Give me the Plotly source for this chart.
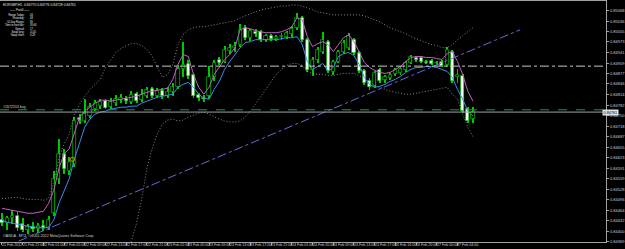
import plotly.graph_objects as go

# ---------------- data (EURGBP H1) ----------------
opens = [0.84434,0.84425,0.84440,0.84446,0.84422,0.84404,0.84413,0.84407,0.84416,0.84410,
         0.84455,0.84560,0.84635,0.84584,0.84605,0.84743,0.84734,0.84749,0.84770,0.84779,
         0.84794,0.84776,0.84788,0.84797,0.84800,0.84791,0.84815,0.84797,0.84809,0.84830,
         0.84809,0.84824,0.84809,0.84821,0.84836,0.84890,0.84905,0.84872,0.84812,0.84803,
         0.84809,0.84866,0.84920,0.84914,0.84947,0.84956,0.84965,0.85016,0.84986,0.85004,
         0.85004,0.84980,0.84992,0.84983,0.84989,0.84989,0.84998,0.85016,0.85046,0.84980,
         0.84887,0.84920,0.84944,0.84974,0.84881,0.84914,0.84944,0.84956,0.84980,0.84941,
         0.84884,0.84854,0.84839,0.84887,0.84857,0.84863,0.84875,0.84878,0.84887,0.84911,
         0.84926,0.84926,0.84914,0.84917,0.84908,0.84914,0.84902,0.84944,0.84866,0.84869,
         0.84770,0.84740]
highs = [0.84455,0.84446,0.84464,0.84458,0.84440,0.84422,0.84428,0.84425,0.84434,0.84446,
         0.84584,0.84680,0.84650,0.84626,0.84746,0.84755,0.84800,0.84788,0.84797,0.84800,
         0.84800,0.84803,0.84812,0.84815,0.84809,0.84824,0.84821,0.84830,0.84836,0.84836,
         0.84833,0.84833,0.84836,0.84848,0.84902,0.84974,0.84920,0.84878,0.84818,0.84812,
         0.84899,0.84920,0.84929,0.84962,0.84968,0.84974,0.85028,0.85025,0.85013,0.85013,
         0.85010,0.84998,0.84998,0.84995,0.85001,0.85007,0.85022,0.85061,0.85052,0.84986,
         0.84929,0.84959,0.85004,0.84980,0.84920,0.84950,0.84980,0.85001,0.84986,0.84947,
         0.84890,0.84863,0.84884,0.84893,0.84872,0.84878,0.84893,0.84899,0.84917,0.84935,
         0.84932,0.84932,0.84920,0.84923,0.84917,0.84920,0.84959,0.84950,0.84890,0.84875,
         0.84776,0.84776]
lows = [0.84416,0.84404,0.84422,0.84401,0.84398,0.84392,0.84398,0.84395,0.84401,0.84404,
        0.84446,0.84545,0.84575,0.84572,0.84596,0.84725,0.84728,0.84743,0.84764,0.84770,
        0.84770,0.84770,0.84779,0.84788,0.84785,0.84785,0.84788,0.84791,0.84803,0.84803,
        0.84803,0.84800,0.84803,0.84809,0.84830,0.84866,0.84860,0.84803,0.84794,0.84791,
        0.84800,0.84854,0.84902,0.84908,0.84938,0.84944,0.84959,0.84980,0.84977,0.84989,
        0.84974,0.84974,0.84977,0.84977,0.84980,0.84983,0.84989,0.85010,0.84974,0.84881,
        0.84869,0.84911,0.84938,0.84878,0.84872,0.84908,0.84938,0.84950,0.84935,0.84878,
        0.84842,0.84827,0.84833,0.84848,0.84848,0.84857,0.84869,0.84872,0.84881,0.84905,
        0.84914,0.84911,0.84905,0.84902,0.84902,0.84896,0.84896,0.84848,0.84848,0.84758,
        0.84728,0.84728]
closes = [0.84425,0.84440,0.84446,0.84410,0.84404,0.84413,0.84407,0.84416,0.84410,0.84434,
          0.84560,0.84635,0.84590,0.84611,0.84734,0.84737,0.84755,0.84776,0.84788,0.84791,
          0.84773,0.84791,0.84800,0.84803,0.84794,0.84812,0.84794,0.84812,0.84827,0.84809,
          0.84824,0.84809,0.84821,0.84836,0.84890,0.84902,0.84869,0.84809,0.84803,0.84800,
          0.84866,0.84908,0.84911,0.84950,0.84956,0.84962,0.85010,0.84986,0.85007,0.84998,
          0.84980,0.84992,0.84983,0.84989,0.84992,0.85001,0.85013,0.85046,0.84980,0.84887,
          0.84920,0.84950,0.84980,0.84884,0.84914,0.84944,0.84971,0.84992,0.84941,0.84884,
          0.84848,0.84836,0.84878,0.84854,0.84866,0.84872,0.84887,0.84890,0.84911,0.84929,
          0.84920,0.84914,0.84911,0.84905,0.84911,0.84899,0.84950,0.84854,0.84872,0.84764,
          0.84734,0.84761]

ma_high = [0.84470,0.84467,0.84464,0.84461,0.84458,0.84455,0.84455,0.84458,0.84461,0.84485,
           0.84524,0.84590,0.84635,0.84650,0.84695,0.84746,0.84764,0.84776,0.84788,0.84797,
           0.84797,0.84794,0.84797,0.84800,0.84803,0.84806,0.84809,0.84815,0.84821,0.84824,
           0.84827,0.84830,0.84833,0.84860,0.84905,0.84935,0.84929,0.84875,0.84836,0.84815,
           0.84836,0.84875,0.84896,0.84920,0.84935,0.84956,0.85010,0.85016,0.85013,0.85007,
           0.85004,0.85001,0.85001,0.85001,0.85004,0.85010,0.85019,0.85046,0.85040,0.84989,
           0.84959,0.84968,0.84974,0.84965,0.84944,0.84965,0.84986,0.84995,0.84974,0.84944,
           0.84911,0.84896,0.84887,0.84881,0.84878,0.84881,0.84890,0.84899,0.84914,0.84926,
           0.84929,0.84929,0.84926,0.84926,0.84923,0.84920,0.84938,0.84944,0.84914,0.84875,
           0.84824,0.84794]
ma_low = [0.84434,0.84428,0.84425,0.84422,0.84419,0.84416,0.84413,0.84413,0.84410,0.84413,
          0.84434,0.84485,0.84524,0.84560,0.84620,0.84665,0.84716,0.84740,0.84755,0.84761,
          0.84764,0.84770,0.84773,0.84776,0.84776,0.84779,0.84779,0.84788,0.84794,0.84800,
          0.84806,0.84809,0.84812,0.84815,0.84836,0.84845,0.84851,0.84836,0.84815,0.84803,
          0.84800,0.84830,0.84854,0.84890,0.84914,0.84935,0.84956,0.84971,0.84974,0.84980,
          0.84980,0.84980,0.84980,0.84980,0.84983,0.84986,0.84986,0.84989,0.84965,0.84914,
          0.84890,0.84899,0.84908,0.84884,0.84896,0.84929,0.84938,0.84941,0.84932,0.84905,
          0.84866,0.84845,0.84836,0.84839,0.84845,0.84854,0.84860,0.84869,0.84881,0.84890,
          0.84896,0.84896,0.84899,0.84899,0.84896,0.84890,0.84884,0.84866,0.84830,0.84800,
          0.84764,0.84749]
bb_upper = [0.84500,0.84500,0.84503,0.84503,0.84500,0.84497,0.84497,0.84497,0.84494,0.84500,
            0.84545,0.84620,0.84665,0.84695,0.84755,0.84785,0.84809,0.84830,0.84845,0.84860,
            0.84896,0.84920,0.84941,0.84953,0.84962,0.84968,0.84968,0.84962,0.84950,0.84932,
            0.84896,0.84866,0.84875,0.84905,0.84965,0.84995,0.85010,0.85016,0.85019,0.85019,
            0.85022,0.85025,0.85028,0.85031,0.85034,0.85037,0.85046,0.85052,0.85058,0.85064,
            0.85070,0.85073,0.85076,0.85079,0.85082,0.85082,0.85085,0.85085,0.85082,0.85076,
            0.85070,0.85064,0.85061,0.85058,0.85055,0.85055,0.85055,0.85055,0.85055,0.85055,
            0.85052,0.85046,0.85040,0.85034,0.85025,0.85016,0.85010,0.85004,0.84998,0.84989,
            0.84983,0.84977,0.84971,0.84965,0.84962,0.84956,0.84956,0.84965,0.84980,0.84992,
            0.85004,0.85016]
bb_lower = [0.84362,0.84362,0.84362,0.84362,0.84362,0.84362,0.84362,0.84362,0.84362,0.84362,
            0.84335,0.84300,0.84270,0.84250,0.84230,0.84220,0.84210,0.84210,0.84215,0.84225,
            0.84240,0.84260,0.84290,0.84320,0.84345,0.84371,0.84425,0.84500,0.84590,0.84650,
            0.84695,0.84725,0.84737,0.84740,0.84734,0.84737,0.84746,0.84752,0.84758,0.84761,
            0.84755,0.84746,0.84740,0.84734,0.84731,0.84731,0.84734,0.84746,0.84764,0.84785,
            0.84806,0.84830,0.84854,0.84875,0.84890,0.84902,0.84908,0.84908,0.84902,0.84884,
            0.84878,0.84875,0.84875,0.84872,0.84872,0.84875,0.84878,0.84878,0.84878,0.84872,
            0.84860,0.84851,0.84842,0.84836,0.84830,0.84824,0.84821,0.84818,0.84815,0.84815,
            0.84818,0.84821,0.84824,0.84827,0.84830,0.84833,0.84836,0.84815,0.84800,0.84755,
            0.84716,0.84686]

trend_x = [3.25, 100.1]
trend_y = [0.84371, 0.85010]
pivot_level = 0.84900
order_level = 0.84768
trade_x = [13.6]
trade_y = [0.84618]

date_pos = list(range(0, 92, 4))
date_labels = ["21 Feb 2012", "21 Feb 21:00", "22 Feb 01:00", "22 Feb 05:00", "22 Feb 09:00",
               "22 Feb 13:00", "22 Feb 17:00", "22 Feb 21:00", "23 Feb 01:00", "23 Feb 05:00",
               "23 Feb 09:00", "23 Feb 13:00", "23 Feb 17:00", "23 Feb 21:00", "24 Feb 01:00",
               "24 Feb 05:00", "24 Feb 09:00", "24 Feb 13:00", "24 Feb 17:00", "26 Feb 16:00",
               "26 Feb 20:00", "27 Feb 00:00", "27 Feb 04:00"]
price_ticks = [0.85068,0.85036,0.85005,0.84973,0.84941,0.84909,0.84877,0.84846,0.84814,0.84782,
               0.84750,0.84718,0.84687,0.84655,0.84623,0.84591,0.84559,0.84528,0.84496,0.84464,
               0.84432,0.84400,0.84369]

info_labels = ["Range Today:", "Yesterday:", "14-Day Range:", "Time to next bar:", "Spread:",
               "Swap long:", "Swap short:"]
info_values = ["44", "48", "80", "35:44", "17", "-0.45", "0.29"]

# ---------------- figure ----------------
GREEN = "#00c800"
W, H = 625, 249
n = len(closes)
idx = list(range(n))
fig = go.Figure()

fig.add_trace(go.Bar(x=idx, base=lows, y=[h - l for h, l in zip(highs, lows)],
                     width=0.18, marker=dict(color=GREEN, line=dict(width=0)),
                     hoverinfo="skip", showlegend=False))
body_base = [min(o, c) for o, c in zip(opens, closes)]
body_h = [max(abs(c - o), 0.000025) for o, c in zip(opens, closes)]
body_col = ["#000000" if c >= o else "#ffffff" for o, c in zip(opens, closes)]
fig.add_trace(go.Bar(x=idx, base=body_base, y=body_h, width=0.6,
                     marker=dict(color=body_col, line=dict(color=GREEN, width=0.7)),
                     hoverinfo="skip", showlegend=False))

dot = dict(color="#a8a8a8", width=0.8, dash="1px,2px")
fig.add_trace(go.Scatter(x=idx, y=bb_upper, mode="lines", line=dot, showlegend=False, hoverinfo="skip"))
fig.add_trace(go.Scatter(x=idx, y=bb_lower, mode="lines", line=dot, showlegend=False, hoverinfo="skip"))
fig.add_trace(go.Scatter(x=idx, y=ma_high, mode="lines", line=dict(color="#c060c0", width=1),
                         showlegend=False, hoverinfo="skip"))
fig.add_trace(go.Scatter(x=idx, y=ma_low, mode="lines", line=dict(color="#3c8ce8", width=1),
                         showlegend=False, hoverinfo="skip"))
fig.add_trace(go.Scatter(x=trend_x, y=trend_y, mode="lines",
                         line=dict(color="#6a6ad8", width=1, dash="dashdot"),
                         showlegend=False, hoverinfo="skip"))
fig.add_trace(go.Scatter(x=trade_x, y=trade_y, mode="markers",
                         marker=dict(color="#ff8c00", size=4, symbol="circle-open", line=dict(width=1)),
                         showlegend=False, hoverinfo="skip"))

XD = 612 / W
fig.add_shape(type="line", xref="paper", x0=0, x1=XD, yref="y", y0=pivot_level, y1=pivot_level,
              line=dict(color="#c8c8c8", width=1, dash="dashdot"))
fig.add_shape(type="line", xref="paper", x0=0, x1=XD, yref="y", y0=order_level, y1=order_level,
              line=dict(color="#2e8b57", width=1, dash="dash"))
fig.add_shape(type="line", xref="paper", x0=0, x1=XD, yref="y", y0=closes[-1], y1=closes[-1],
              line=dict(color="#a0a0a0", width=1))

FONT = "Liberation Sans Narrow, Liberation Sans, Arial, sans-serif"
tiny = dict(family=FONT, size=3.6, color="#d0d0d0")
micro = dict(family=FONT, size=2.6, color="#e8e8e8")
small = dict(family=FONT, size=4, color="#d0d0d0")

def py(px):
    return 1 - px / H

fig.add_annotation(x=0, xref="paper", y=order_level, yref="y", text="#2672553 buy", showarrow=False,
                   xanchor="left", yanchor="bottom", font=tiny, xshift=2, borderpad=0)
fig.add_annotation(x=1.0, xref="paper", y=closes[-1], yref="y", text=f"{closes[-1]:.5f}", showarrow=False,
                   xanchor="right", yanchor="middle", font=dict(family=FONT, size=3.8, color="#000000"),
                   bgcolor="#e0e0e0", borderpad=0.5)

for p, t in zip(date_pos, date_labels):
    fig.add_annotation(x=p, xref="x", y=py(244), yref="paper", text=t, showarrow=False,
                       xanchor="left", yanchor="top", font=tiny, xshift=-1, borderpad=0)

fig.add_annotation(x=2 / W, xref="paper", y=py(2.2), yref="paper",
                   text="EURGBP,H1  0.84770 0.84776 0.84728 0.84761",
                   showarrow=False, xanchor="left", yanchor="top",
                   font=dict(family=FONT, size=3.4, color="#e0e0e0"), borderpad=0)
fig.add_annotation(x=20 / W, xref="paper", y=py(10), yref="paper", text="—— PivotD ——",
                   showarrow=False, xanchor="center", yanchor="middle", font=micro, borderpad=0)
fig.add_annotation(x=26 / W, xref="paper", y=py(12.4), yref="paper", text="<br>".join(info_labels),
                   showarrow=False, xanchor="right", yanchor="top", align="right", font=micro, borderpad=0)
fig.add_annotation(x=29 / W, xref="paper", y=py(12.4), yref="paper", text="<br>".join(info_values),
                   showarrow=False, xanchor="left", yanchor="top", align="left", font=micro, borderpad=0)
fig.add_annotation(x=2 / W, xref="paper", y=py(238), yref="paper",
                   text="OANDA - MT4, © 2001-2012 MetaQuotes Software Corp.",
                   showarrow=False, xanchor="left", yanchor="middle", font=tiny, borderpad=0)

fig.update_layout(
    width=W, height=H, margin=dict(l=0, r=0, t=0, b=0),
    paper_bgcolor="#000000", plot_bgcolor="#000000",
    barmode="overlay", bargap=0, showlegend=False,
    xaxis=dict(domain=[0, XD], range=[-0.383, 116.72], showgrid=False, zeroline=False,
               tickvals=date_pos, ticks="outside", ticklen=2, tickcolor="#a0a0a0",
               showticklabels=False, showline=True, linecolor="#a0a0a0", linewidth=1, mirror=True),
    yaxis=dict(domain=[py(244), py(1)], range=[0.84368, 0.85097], side="right", showgrid=False,
               zeroline=False, tickvals=price_ticks, ticktext=[f"{v:.5f}" for v in price_ticks],
               ticks="outside", ticklen=2, tickcolor="#a0a0a0", tickfont=small,
               showline=True, linecolor="#a0a0a0", linewidth=1),
)

fig.write_html("out.html")
